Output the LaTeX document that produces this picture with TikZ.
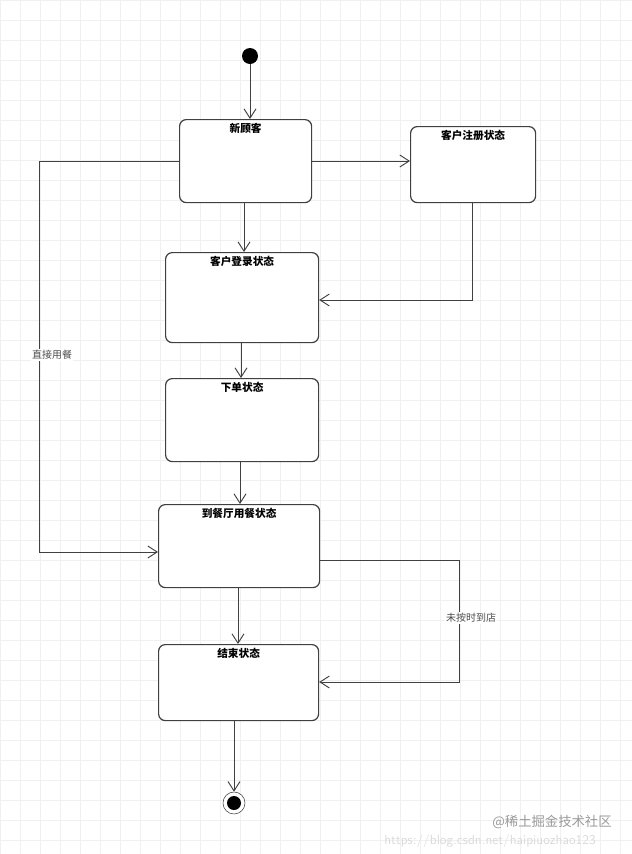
\documentclass[tikz,border=0pt]{standalone}
\usepackage{fontspec}
\newfontfamily\cjk{Noto Sans CJK SC}
\usetikzlibrary{arrows.meta}
\newcommand\px{0.75pt}

\tikzset{
  state/.style={draw=black!75,fill=white,rounded corners=5pt,anchor=north west,line width=0.9pt},
  title/.style={font=\cjk\bfseries\fontsize{8}{9}\selectfont,anchor=north,inner sep=3pt},
  flow/.style={draw=black!75,line width=0.7pt,-{Straight Barb[length=7pt,width=9pt]}},
  note/.style={font=\cjk\fontsize{7.5}{9}\selectfont,text=black!70}
}

\begin{document}
\begin{tikzpicture}[x=\px,y=-\px]
\useasboundingbox (0,0) rectangle (632,854);
% grid
\draw[black!6,line width=0.5pt] (0,0) grid[step=20*\px] (632,854);
% states
\node[state,minimum width=132*\px,minimum height=83*\px] (xgk) at (179,119) {};
\node[title] at (xgk.north) {新顾客};
\node[state,minimum width=125*\px,minimum height=76*\px] (zc) at (410,126) {};
\node[title] at (zc.north) {客户注册状态};
\node[state,minimum width=153*\px,minimum height=90*\px] (dl) at (165,252) {};
\node[title] at (dl.north) {客户登录状态};
\node[state,minimum width=153*\px,minimum height=83*\px] (xd) at (165,378) {};
\node[title] at (xd.north) {下单状态};
\node[state,minimum width=161*\px,minimum height=83*\px] (yc) at (158,504) {};
\node[title] at (yc.north) {到餐厅用餐状态};
\node[state,minimum width=160*\px,minimum height=76*\px] (js) at (158,644) {};
\node[title] at (js.north) {结束状态};
% start / end
\node[circle,fill=black,minimum size=16*\px,inner sep=0pt] (start) at (250,56) {};
\node[circle,draw=black!75,fill=white,minimum size=22*\px,inner sep=0pt] (stop) at (234,803) {};
\node[circle,fill=black,minimum size=14*\px,inner sep=0pt] at (stop.center) {};
% connectors
\coordinate (a1) at (39,161);
\coordinate (a2) at (39,552);
\coordinate (b1) at (472,300);
\coordinate (c1) at (459,560);
\coordinate (c2) at (459,682);
\draw[flow] (start) -- (start |- xgk.north);
\draw[flow] (xgk.west |- a1) -- (a1) -- (a2) -- (yc.west |- a2);
\draw[flow] (xgk.east |- a1) -- (zc.west |- a1);
\draw[flow] (244,202) -- (244,252);
\draw[flow] (zc.south -| b1) -- (b1) -- (dl.east |- b1);
\draw[flow] (241,342) -- (241,378);
\draw[flow] (240,461) -- (240,504);
\draw[flow] (yc.east |- c1) -- (c1) -- (c2) -- (js.east |- c2);
\draw[flow] (238,587) -- (238,644);
\draw[flow] (stop.north |- js.south) -- (stop.north);
% labels
\node[note,fill=white,inner sep=1pt] (l1) at (52,355) {直接用餐};
\node[note,fill=white,inner sep=1pt] (l2) at (471,618) {未按时到店};
% watermark
\node[font=\sffamily\fontsize{10}{12}\selectfont,text=black!15] (wm1) at (490,841) {https://blog.csdn.net/haipiuozhao123};
\node[font=\cjk\fontsize{10}{12}\selectfont,text=black!40] (wm2) at (552,822) {@稀土掘金技术社区};
\end{tikzpicture}
\end{document}
